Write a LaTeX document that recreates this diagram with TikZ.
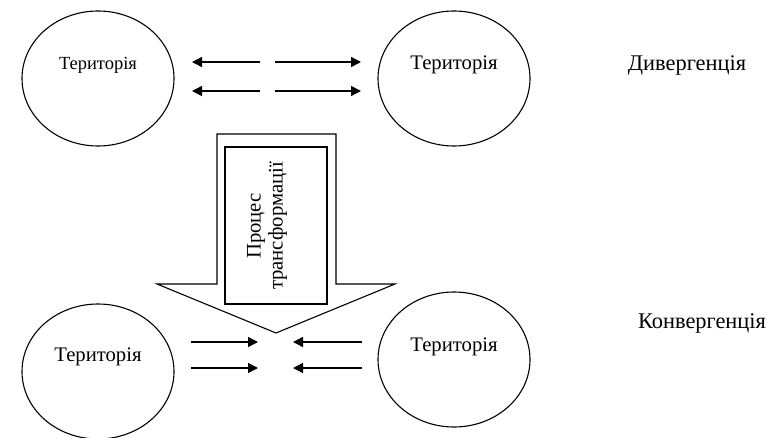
\documentclass[tikz,border=0pt]{standalone}
\usepackage{fontspec}
\setmainfont{Liberation Serif}
\usetikzlibrary{arrows.meta,shapes.geometric}
\tikzset{
  terr/.style={draw, ellipse, line width=1.1pt, minimum width=152pt, minimum height=135pt},
  flow/.style={-{Triangle[length=10pt,width=10pt]}, line width=1.4pt},
  lbl/.style={font=\fontsize{20.7}{22}\selectfont},
  side/.style={font=\fontsize{22.4}{24}\selectfont},
}
\begin{document}
\begin{tikzpicture}[x=1pt,y=-1pt]
	  \useasboundingbox (0,0) rectangle (767,438);
	  % territories
	  \node (TL) [terr] at (98,78.5) {};
	  \node (TR) [terr] at (454,78.5) {};
	  \node (BL) [terr] at (98,371.5) {};
	  \node (BR) [terr] at (454,359.5) {};
	  \node (TLt) [font=\fontsize{18.5}{20}\selectfont] at (98,65) {Територія};
	  \node (TRt) [lbl] at (454,65) {Територія};
	  \node (BLt) [lbl] at (98,357) {Територія};
	  \node (BRt) [lbl] at (454,347) {Територія};
	  \node (div) [side] at (687,65) {Дивергенція};
	  \node (conv) [side] at (702,323) {Конвергенція};
	  % transformation arrow
	  \draw[line width=1.1pt, fill=white] (217,284) -- (217,134) -- (336,134) -- (336,284)
	    -- (395,284) -- (276,333) -- (157,284) -- cycle;
	  \node (proc) [draw, line width=1.3pt, fill=white, minimum width=102pt, minimum height=157pt] at (276,225.5) {};
	  \node (proct) [lbl, rotate=90, align=center] at (267,226) {Процес\\трансформації};
	  % divergence
	  \coordinate (d1a) at (260,62);  \coordinate (d1b) at (192,62);
	  \coordinate (d2a) at (260,91);  \coordinate (d2b) at (192,91);
	  \coordinate (d3a) at (275,62);  \coordinate (d3b) at (361,62);
	  \coordinate (d4a) at (275,91);  \coordinate (d4b) at (361,91);
	  \draw[flow] (d1a) -- (d1b);
	  \draw[flow] (d2a) -- (d2b);
	  \draw[flow] (d3a) -- (d3b);
	  \draw[flow] (d4a) -- (d4b);
	  % convergence
	  \coordinate (c1a) at (191,342); \coordinate (c1b) at (258,342);
	  \coordinate (c2a) at (191,368); \coordinate (c2b) at (258,368);
	  \coordinate (c3a) at (362,342); \coordinate (c3b) at (293,342);
	  \coordinate (c4a) at (362,368); \coordinate (c4b) at (293,368);
	  \draw[flow] (c1a) -- (c1b);
	  \draw[flow] (c2a) -- (c2b);
	  \draw[flow] (c3a) -- (c3b);
	  \draw[flow] (c4a) -- (c4b);
	\end{tikzpicture}
\end{document}
